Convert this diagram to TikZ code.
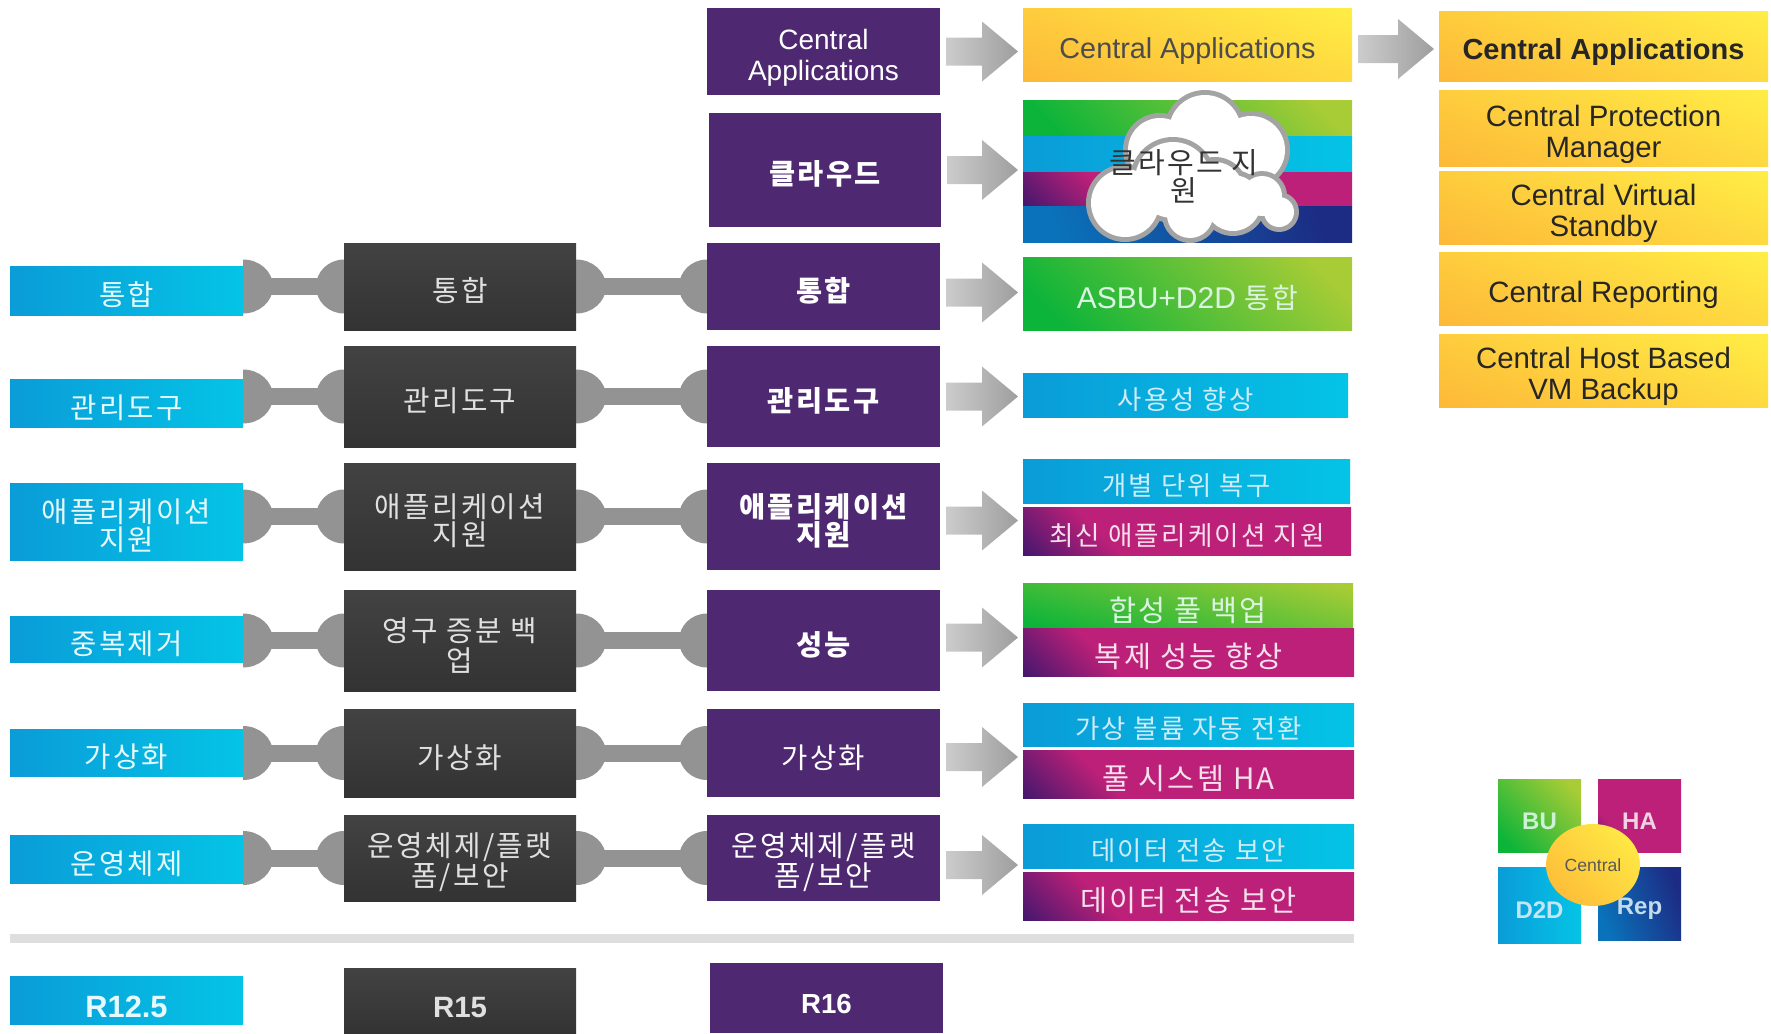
\documentclass[tikz,border=0pt]{standalone}
\usepackage{fontspec}
\setmainfont{Liberation Sans}
\newfontfamily\kr[LetterSpace=8]{Noto Sans CJK KR}
\usetikzlibrary{calc,backgrounds,shapes.geometric}
\definecolor{purp}{HTML}{4E2870}
\definecolor{congrey}{HTML}{939393}
\definecolor{bluea}{HTML}{0A9CD8}
\definecolor{blueb}{HTML}{04C4E6}
\definecolor{maga}{HTML}{47176E}
\definecolor{magb}{HTML}{BC2078}
\definecolor{grna}{HTML}{0CB43A}
\definecolor{grnb}{HTML}{A8CC36}
\definecolor{yela}{HTML}{FDBA38}
\definecolor{yelb}{HTML}{FFEC45}
\definecolor{nava}{HTML}{0A72BA}
\definecolor{navb}{HTML}{1C2C84}
\pgfdeclarehorizontalshading{magshade}{100bp}{color(0bp)=(maga); color(15bp)=(maga); color(33bp)=(magb); color(100bp)=(magb)}
\pgfdeclarehorizontalshading{grnshade}{100bp}{color(0bp)=(grna); color(22bp)=(grna); color(78bp)=(grnb); color(100bp)=(grnb)}
\pgfdeclarehorizontalshading{yelshade}{100bp}{color(0bp)=(yela); color(20bp)=(yela); color(80bp)=(yelb); color(100bp)=(yelb)}
\pgfdeclarehorizontalshading{navshade}{100bp}{color(0bp)=(nava); color(25bp)=(nava); color(75bp)=(navb); color(100bp)=(navb)}
\tikzset{
  x=0.5pt,y=-0.5pt,
  box/.style={inner sep=0pt,outer sep=0pt,align=center,text=white,font=\kr\fontsize{14.3}{14}\selectfont},
  bluebox/.style={box,left color=bluea,right color=blueb,text=white!90!blueb},
  darkbox/.style={box,top color=black!74,bottom color=black!80,text=black!12,font=\kr\fontsize{14.4}{14}\selectfont},
  purpbox/.style={box,fill=purp,font=\kr\bfseries\fontsize{14.2}{14}\selectfont},
  magbox/.style={box,shading=magshade,shading angle=45,text=white!86!magb,font=\kr\fontsize{14.7}{14}\selectfont},
  cyanbar/.style={box,left color=bluea,right color=blueb,text=white!80!bluea,font=\kr\fontsize{13.2}{14}\selectfont},
  grnbox/.style={box,shading=grnshade,shading angle=45,text=white!85!grna,font=\kr\fontsize{14.7}{15}\selectfont},
  navbox/.style={box,shading=navshade,shading angle=20},
  yelbox/.style={box,shading=yelshade,shading angle=70,text=black!70,font=\fontsize{14.4}{15.5}\selectfont},
  rightbox/.style={yelbox,text=black!85,font=\fontsize{14.7}{15.5}\selectfont},
  quad/.style={box,font=\bfseries\fontsize{12}{12}\selectfont},
  textless/.style={font=\fontsize{1}{1}\selectfont},
  conn/.style={fill=congrey},
  connbar/.style={draw=congrey,line width=8.5pt},
  cloudedge/.style={fill=black!36},
  cloudfill/.style={fill=white},
}
% rectangle node given by its corners in pixels; the strut lowers the text a little, as in the reference
\newcommand{\bx}[8][]{%
  \pgfmathsetmacro{\bw}{(#5-#3)*0.5}\pgfmathsetmacro{\bh}{(#6-#4)*0.5}%
  \node[#2,minimum width=\bw pt,minimum height=\bh pt,#1] (#7) at ({(#3+#5)/2},{(#4+#6)/2}) {\rule{0pt}{1.15em}#8}}
% grey bone connector between two nodes
\newcommand{\bone}[2]{%
  \draw[connbar] (#1.east |- #2.west) -- (#2.west);
  \fill[conn] ($(#1.east |- #2.west)+(0,-27)$) arc[start angle=-90,end angle=90,x radius=30,y radius=27] -- cycle;
  \fill[conn] ($(#2.west)+(0,-27)$) arc[start angle=-90,end angle=-270,x radius=28,y radius=27] -- cycle;}
% block arrow between two nodes, dy moves it off the centre line
\newcommand{\bigarrow}[3]{%
  \coordinate (s) at ($(#1.east)+(6,#3)$);
  \coordinate (e) at ($(#2.west |- #1.east)+(-5,#3)$);
  \shade[left color=black!20,right color=black!38]
    ($(s)+(0,-14)$) -- ($(e)+(-36,-14)$) -- ($(e)+(-36,-30)$) -- (e) -- ($(e)+(-36,30)$) -- ($(e)+(-36,14)$) -- ($(s)+(0,14)$) -- cycle;}
\begin{document}
\begin{tikzpicture}
\useasboundingbox (0,0) rectangle (1771,1033);
% top row
\bx[font=\fontsize{14}{15.5}\selectfont]{purpbox}{707}{8}{940}{95}{p0}{Central\\Applications};
\bx{yelbox}{1023}{8}{1352}{81}{y0}{Central Applications};
% cloud row
\bx{purpbox}{709}{113}{941}{227}{p1}{클라우드};
\bx[textless]{grnbox}{1023}{100}{1352}{136}{s1}{};
\bx[textless]{cyanbar}{1023}{136}{1352}{172}{s2}{};
\bx[textless]{magbox}{1023}{172}{1352}{206}{s3}{};
\bx[textless]{navbox}{1023}{206}{1352}{242}{s4}{};
% purple column
\bx{purpbox}{707}{243}{940}{330}{p2}{통합};
\bx{purpbox}{707}{346}{940}{447}{p3}{관리도구};
\bx{purpbox}{707}{463}{940}{570}{p4}{애플리케이션\\지원};
\bx{purpbox}{707}{590}{940}{691}{p5}{성능};
\bx[font=\kr\fontsize{14.3}{14}\selectfont]{purpbox}{707}{709}{940}{797}{p6}{가상화};
\bx[font=\kr\fontsize{14.4}{15}\selectfont]{purpbox}{707}{815}{940}{901}{p7}{운영체제/플랫\\폼/보안};
\bx[font=\bfseries\fontsize{13.8}{14}\selectfont]{purpbox}{710}{963}{943}{1033}{p8}{R16};
% dark column
\bx{darkbox}{344}{243}{576}{330}{d2}{통합};
\bx{darkbox}{344}{346}{576}{447}{d3}{관리도구};
\bx{darkbox}{344}{463}{576}{570}{d4}{애플리케이션\\지원};
\bx[font=\kr\fontsize{14.4}{15}\selectfont]{darkbox}{344}{590}{576}{691}{d5}{영구 증분 백\\업};
\bx{darkbox}{344}{709}{576}{797}{d6}{가상화};
\bx[font=\kr\fontsize{14.4}{15}\selectfont]{darkbox}{344}{815}{576}{901}{d7}{운영체제/플랫\\폼/보안};
\bx[font=\bfseries\fontsize{14.7}{14}\selectfont]{darkbox}{344}{968}{576}{1033}{d8}{R15};
% blue column
\bx{bluebox}{10}{266}{243}{315}{b2}{통합};
\bx{bluebox}{10}{379}{243}{427}{b3}{관리도구};
\bx{bluebox}{10}{483}{243}{560}{b4}{애플리케이션\\지원};
\bx{bluebox}{10}{616}{243}{662}{b5}{중복제거};
\bx{bluebox}{10}{729}{243}{776}{b6}{가상화};
\bx{bluebox}{10}{835}{243}{883}{b7}{운영체제};
\bx[font=\bfseries\fontsize{15.4}{15}\selectfont]{bluebox}{10}{976}{243}{1024}{b8}{R12.5};
% result column
\bx[font=\kr\fontsize{14}{15}\selectfont]{grnbox}{1023}{257}{1352}{330}{t2}{{\rmfamily\fontsize{15}{15}\selectfont ASBU+D2D} 통합};
\bx{cyanbar}{1023}{373}{1348}{417}{t3}{사용성 향상};
\bx{cyanbar}{1023}{459}{1350}{503}{t4a}{개별 단위 복구};
\bx[font=\kr\fontsize{13.3}{14}\selectfont]{magbox}{1023}{507}{1351}{555}{t4b}{최신 애플리케이션 지원};
\bx[shading angle=75]{grnbox}{1023}{583}{1353}{628}{t5a}{합성 풀 백업};
\bx{magbox}{1023}{628}{1354}{676}{t5b}{복제 성능 향상};
\bx{cyanbar}{1023}{703}{1354}{746}{t6a}{가상 볼륨 자동 전환};
\bx{magbox}{1023}{750}{1354}{798}{t6b}{풀 시스템 HA};
\bx{cyanbar}{1023}{824}{1354}{868}{t7a}{데이터 전송 보안};
\bx{magbox}{1023}{872}{1354}{920}{t7b}{데이터 전송 보안};
% separator
\bx[textless]{box,fill=black!13}{10}{934}{1354}{943}{sep}{};
% right column
\bx{rightbox,font=\bfseries\fontsize{14.5}{15.5}\selectfont}{1439}{11}{1768}{81}{r0}{Central Applications};
\bx{rightbox}{1439}{90}{1768}{166}{r1}{Central Protection\\Manager};
\bx{rightbox}{1439}{171}{1768}{244}{r2}{Central Virtual\\Standby};
\bx{rightbox}{1439}{252}{1768}{325}{r3}{Central Reporting};
\bx{rightbox}{1439}{334}{1768}{407}{r4}{Central Host Based\\VM Backup};
% quadrant logo
\bx[text=white!80!grna]{quad,shading=grnshade,shading angle=45}{1498}{779}{1581}{852}{qa}{BU};
\bx[text=white!80!magb]{quad,shading=magshade,shading angle=45}{1598}{779}{1681}{852}{qb}{HA};
\bx[text=white!75!bluea]{quad,left color=bluea,right color=blueb}{1498}{867}{1581}{943}{qc}{D2D};
\bx[text=white!75!nava]{quad,shading=navshade,shading angle=20}{1598}{867}{1681}{940}{qd}{Rep};
\node[box,ellipse,minimum width=47pt,minimum height=41pt,shading=yelshade,shading angle=45,text=black!65,font=\fontsize{8.8}{9}\selectfont] (qc0) at (1593,865) {Central};
% cloud
\foreach \cx/\cy/\r in {1205/131/36,1160/150/32,1251/150/34}
  \fill[cloudedge] (\cx,\cy) circle[radius=\r+5];
\foreach \cx/\cy/\r in {1205/131/36,1160/150/32,1251/150/34}
  \fill[cloudfill] (\cx,\cy) circle[radius=\r];
\foreach \cx/\cy/\r in {1125/203/34,1173/180/38,1190/215/23,1215/190/28,1233/203/28,1262/196/20,1279/212/15}
  \fill[cloudedge] (\cx,\cy) circle[radius=\r+5];
\foreach \cx/\cy/\r in {1125/203/34,1173/180/38,1190/215/23,1215/190/28,1233/203/28,1262/196/20,1279/212/15}
  \fill[cloudfill] (\cx,\cy) circle[radius=\r];
\node[box,text=black!80,font=\kr\fontsize{14.5}{14}\selectfont] (cl) at (1184,176) {클라우드 지\\원};
% connectors
\begin{scope}[on background layer]
\bone{b2}{d2}\bone{d2}{p2}
\bone{b3}{d3}\bone{d3}{p3}
\bone{b4}{d4}\bone{d4}{p4}
\bone{b5}{d5}\bone{d5}{p5}
\bone{b6}{d6}\bone{d6}{p6}
\bone{b7}{d7}\bone{d7}{p7}
\end{scope}
\bigarrow{p0}{y0}{0}
\bigarrow{p1}{s2}{0}
\bigarrow{p2}{t2}{6}
\bigarrow{p3}{t3}{0}
\bigarrow{p4}{t4a}{4}
\bigarrow{p5}{t5a}{-3}
\bigarrow{p6}{t6a}{4}
\bigarrow{p7}{t7a}{7}
\bigarrow{y0}{r0}{4.5}
\end{tikzpicture}
\end{document}
